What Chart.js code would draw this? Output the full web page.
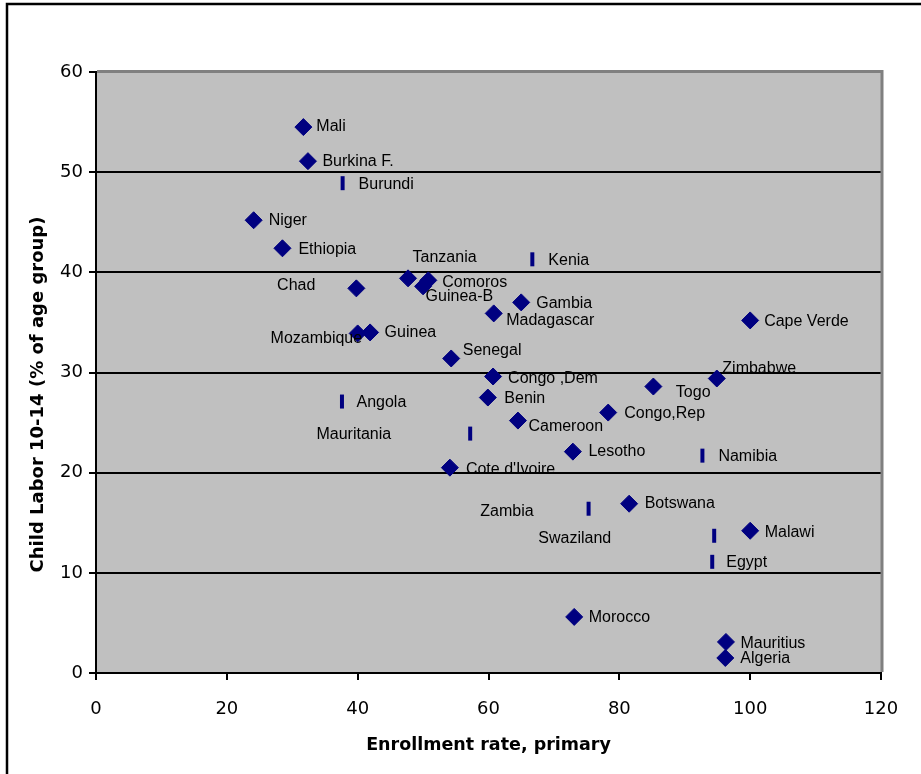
<!DOCTYPE html>
<html>
<head>
<meta charset="utf-8">
<title>Child labor vs primary enrollment</title>
<script src="https://cdn.jsdelivr.net/npm/chart.js@4.4.1/dist/chart.umd.min.js"></script>
<style>
  html, body { margin: 0; padding: 0; background: #fff; }
  #wrap { width: 921px; height: 774px; }
</style>
</head>
<body>
<div id="wrap"><canvas id="scatter" width="921" height="774"></canvas></div>
<script>
// countries drawn with a diamond marker
const diamondCountries = ['Mali', 'Burkina F.', 'Niger', 'Ethiopia', 'Tanzania', 'Chad', 'Comoros', 'Guinea-B',
    'Gambia', 'Madagascar', 'Mozambique', 'Guinea', 'Senegal', 'Congo ,Dem', 'Benin', 'Cameroon', 'Lesotho',
    "Cote d'Ivoire", 'Cape Verde', 'Zimbabwe', 'Togo', 'Congo,Rep', 'Botswana', 'Malawi', 'Morocco',
    'Mauritius', 'Algeria'];
const diamondEnrollment = [31.7, 32.4, 24.1, 28.5, 47.7, 39.8, 50.8, 50.0,
    65.0, 60.8, 40.0, 41.9, 54.3, 60.7, 59.9, 64.5, 72.9,
    54.1, 100.0, 94.9, 85.2, 78.3, 81.5, 100.0, 73.1,
    96.3, 96.2];
const diamondLabor = [54.5, 51.1, 45.2, 42.4, 39.4, 38.4, 39.2, 38.6,
    37.0, 35.9, 33.9, 34.0, 31.4, 29.6, 27.5, 25.2, 22.1,
    20.5, 35.2, 29.4, 28.6, 26.0, 16.9, 14.2, 5.6,
    3.1, 1.5];

// countries drawn with a short vertical dash
const dashCountries = ['Burundi', 'Kenia', 'Angola', 'Mauritania', 'Namibia', 'Zambia', 'Swaziland', 'Egypt'];
const dashEnrollment = [37.7, 66.7, 37.6, 57.2, 92.7, 75.3, 94.5, 94.2];
const dashLabor = [48.9, 41.3, 27.1, 23.9, 21.7, 16.4, 13.7, 11.1];

const xTicks = [0, 20, 40, 60, 80, 100, 120];
const yTicks = [0, 10, 20, 30, 40, 50, 60];

const xTitle = 'Enrollment rate, primary';
const yTitle = 'Child Labor 10-14 (% of age group)';

const toPoints = (xs, ys) => xs.map((x, i) => ({ x: x, y: ys[i] }));

// where each label sits relative to its marker: [dx, dy, align]
const labelPlacement = {
    'Mali': [13, 0], 'Burkina F.': [14.5, 0.5], 'Burundi': [16, 1], 'Niger': [15, 0],
    'Ethiopia': [16, 1.5], 'Tanzania': [4.5, -20.5], 'Chad': [-41, -2.5, 'right'],
    'Comoros': [14, 2], 'Guinea-B': [2.5, 10], 'Kenia': [16, 1.5], 'Gambia': [15, 1.5],
    'Madagascar': [12.5, 7], 'Mozambique': [4.5, 5.5, 'right'], 'Guinea': [14.5, 0],
    'Senegal': [11.5, -7.5], 'Congo ,Dem': [15, 2], 'Benin': [16.5, 1.5], 'Cameroon': [10.5, 6],
    'Mauritania': [-79, 0.5, 'right'], 'Lesotho': [15.5, 0], 'Angola': [14.5, 1],
    "Cote d'Ivoire": [16, 1.5], 'Cape Verde': [14, 1.5], 'Zimbabwe': [5.5, -10], 'Togo': [22.5, 6],
    'Congo,Rep': [16, 1.5], 'Namibia': [16, 0.5], 'Zambia': [-55, 3, 'right'], 'Botswana': [15.5, 0],
    'Swaziland': [-103, 2.5, 'right'], 'Malawi': [14.5, 1.5], 'Egypt': [14, 0.5],
    'Morocco': [14.5, 1], 'Mauritius': [14.5, 1.5], 'Algeria': [15, 0.5]
};

const plotFrame = {
    id: 'plotFrame',
    beforeDraw(chart) {
        const { ctx, chartArea: a } = chart;
        ctx.save();
        ctx.fillStyle = '#C0C0C0';
        ctx.fillRect(a.left, a.top, a.right - a.left, a.bottom - a.top);
        ctx.restore();
    },
    afterDraw(chart) {
        const { ctx, chartArea: a } = chart;
        ctx.save();
        // gray frame on top and right of the plot area
        ctx.strokeStyle = '#808080';
        ctx.lineWidth = 3;
        ctx.beginPath();
        ctx.moveTo(a.left + 1, a.top - 0.5);
        ctx.lineTo(a.right + 1, a.top - 0.5);
        ctx.lineTo(a.right + 1, a.bottom - 1);
        ctx.stroke();
        // outer chart border (only left and top fall inside the picture)
        ctx.strokeStyle = '#000';
        ctx.lineWidth = 2.5;
        ctx.beginPath();
        ctx.moveTo(7, chart.height);
        ctx.lineTo(7, 4);
        ctx.lineTo(chart.width, 4);
        ctx.stroke();
        // y axis title, sitting a little below the plot's middle as in the original
        ctx.fillStyle = '#000';
        ctx.font = 'bold 18px "DejaVu Sans", sans-serif';
        ctx.textAlign = 'center';
        ctx.textBaseline = 'middle';
        ctx.translate(38, (a.top + a.bottom) / 2 + 22);
        ctx.rotate(-Math.PI / 2);
        ctx.fillText(yTitle, 0, 0);
        ctx.restore();
    }
};

const pointLabels = {
    id: 'pointLabels',
    afterDatasetsDraw(chart) {
        const ctx = chart.ctx;
        ctx.save();
        ctx.font = '16px "Liberation Sans", Arial, sans-serif';
        ctx.fillStyle = '#000';
        ctx.textBaseline = 'middle';
        chart.data.datasets.forEach((ds, di) => {
            const meta = chart.getDatasetMeta(di);
            meta.data.forEach((pt, i) => {
                const name = ds.names[i];
                const p = labelPlacement[name] || [15, 1];
                ctx.textAlign = p[2] || 'left';
                ctx.fillText(name, pt.x + p[0], pt.y + p[1]);
            });
        });
        ctx.restore();
    }
};

new Chart(document.getElementById('scatter').getContext('2d'), {
    type: 'scatter',
    data: {
        datasets: [
            {
                label: 'Enrollment',
                names: diamondCountries,
                data: toPoints(diamondEnrollment, diamondLabor),
                pointStyle: 'rectRot',
                pointRadius: 8.5,
                backgroundColor: '#000080',
                borderColor: '#000080',
                borderWidth: 1
            },
            {
                label: 'Enrollment (est.)',
                names: dashCountries,
                data: toPoints(dashEnrollment, dashLabor),
                pointStyle: 'line',
                pointRotation: 90,
                pointRadius: 7,
                backgroundColor: '#000080',
                borderColor: '#000080',
                borderWidth: 4
            }
        ]
    },
    options: {
        responsive: false,
        animation: false,
        layout: { padding: { top: 72, right: 40, left: 0, bottom: 0 } },
        plugins: {
            legend: { display: false },
            tooltip: { enabled: false }
        },
        scales: {
            x: {
                type: 'linear',
                min: 0,
                max: 120,
                afterBuildTicks: (scale) => { scale.ticks = xTicks.map(v => ({ value: v })); },
                afterFit: (scale) => { scale.height = 101; },
                ticks: {
                    color: '#000',
                    padding: 19,
                    maxRotation: 0,
                    font: { family: '"DejaVu Sans", sans-serif', size: 18 }
                },
                grid: {
                    drawOnChartArea: false,
                    tickLength: 7,
                    color: '#000',
                    lineWidth: 2
                },
                border: { color: '#000', width: 2 },
                title: {
                    display: true,
                    text: xTitle,
                    color: '#000',
                    padding: { top: 0, bottom: 18 },
                    font: { family: '"DejaVu Sans", sans-serif', size: 17.5, weight: 'bold' }
                }
            },
            y: {
                min: 0,
                max: 60,
                afterBuildTicks: (scale) => { scale.ticks = yTicks.map(v => ({ value: v })); },
                afterFit: (scale) => { scale.width = 96; },
                ticks: {
                    color: '#000',
                    padding: 6,
                    font: { family: '"DejaVu Sans", sans-serif', size: 18 }
                },
                grid: {
                    color: (c) => (c.tick && c.tick.value === 60) ? '#808080' : '#000',
                    tickColor: '#000',
                    tickLength: 7,
                    lineWidth: 2
                },
                border: { color: '#000', width: 2 },
                title: { display: false }
            }
        }
    },
    plugins: [plotFrame, pointLabels]
});
</script>
</body>
</html>
